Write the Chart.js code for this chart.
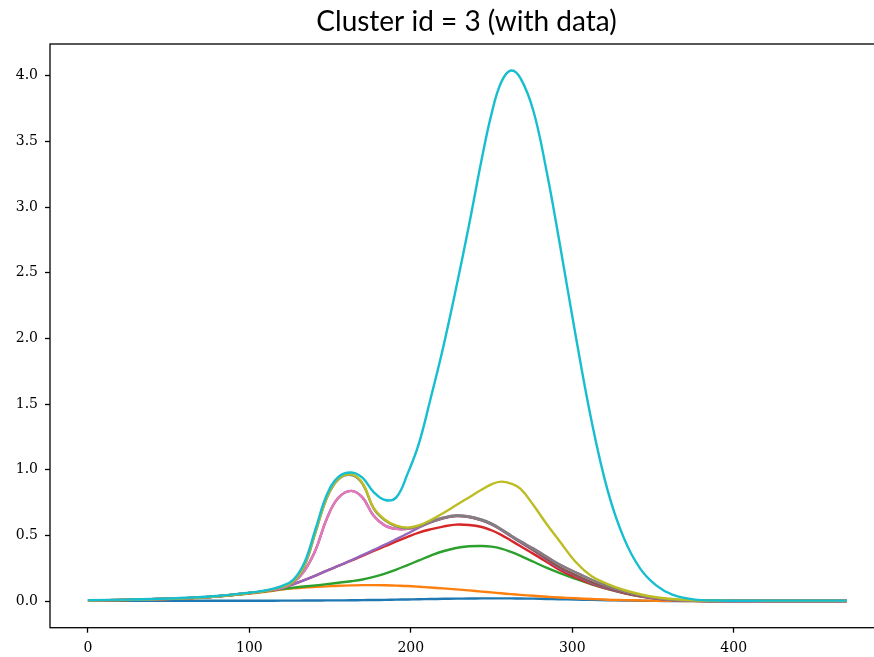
<!DOCTYPE html>
<html>
<head>
<meta charset="utf-8">
<script src="https://cdn.jsdelivr.net/npm/chart.js@4/dist/chart.umd.min.js"></script>
<style>
  html, body { margin: 0; padding: 0; background: #fff; overflow: hidden; }
  #wrap { width: 884px; height: 657px; }
</style>
</head>
<body>
<div id="wrap"><canvas id="c" width="884" height="657"></canvas></div>
<script>
// sample positions along the x axis
const xs = [0, 25, 50, 75, 100, 110, 120, 127, 134, 141, 148, 155, 163, 170, 177, 184, 191, 198, 205, 212,
            220, 228, 236, 244, 250, 256, 262, 268, 276, 284, 292, 302, 312, 322, 332, 342, 352, 362, 375, 390, 420, 470];

const xTicks = [0, 100, 200, 300, 400];
const yTicks = [0, 0.5, 1, 1.5, 2, 2.5, 3, 3.5, 4];

const s0 = [0.004, 0.003, 0.003, 0.003, 0.003, 0.003, 0.004, 0.004, 0.005, 0.005, 0.006, 0.006, 0.007, 0.008, 0.009, 0.010, 0.012, 0.013, 0.015, 0.016,
            0.018, 0.019, 0.020, 0.021, 0.021, 0.021, 0.021, 0.020, 0.019, 0.017, 0.015, 0.012, 0.010, 0.007, 0.005, 0.003, 0.002, 0.001, 0.001, 0.001, 0.001, 0.001];
const s1 = [0.005, 0.009, 0.016, 0.030, 0.058, 0.072, 0.088, 0.097, 0.104, 0.109, 0.113, 0.117, 0.120, 0.122, 0.122, 0.121, 0.118, 0.115, 0.110, 0.104,
            0.097, 0.090, 0.082, 0.073, 0.067, 0.060, 0.054, 0.048, 0.041, 0.034, 0.028, 0.022, 0.016, 0.011, 0.008, 0.005, 0.003, 0.002, 0.001, 0.001, 0.001, 0.001];
const s2 = [0.005, 0.010, 0.018, 0.032, 0.060, 0.075, 0.092, 0.102, 0.112, 0.120, 0.130, 0.140, 0.152, 0.165, 0.185, 0.210, 0.240, 0.275, 0.310, 0.345,
            0.380, 0.405, 0.418, 0.420, 0.415, 0.400, 0.375, 0.345, 0.300, 0.255, 0.215, 0.170, 0.128, 0.092, 0.062, 0.037, 0.019, 0.008, 0.002, 0.001, 0.001, 0.001];
const s3 = [0.006, 0.010, 0.018, 0.032, 0.062, 0.078, 0.100, 0.128, 0.160, 0.195, 0.232, 0.268, 0.308, 0.345, 0.382, 0.418, 0.455, 0.490, 0.522, 0.546,
            0.568, 0.583, 0.580, 0.565, 0.540, 0.505, 0.462, 0.418, 0.360, 0.300, 0.240, 0.180, 0.132, 0.093, 0.062, 0.037, 0.019, 0.008, 0.002, 0.001, 0.001, 0.001];
const s4 = [0.006, 0.010, 0.018, 0.032, 0.062, 0.078, 0.100, 0.128, 0.160, 0.195, 0.232, 0.268, 0.310, 0.350, 0.390, 0.430, 0.472, 0.515, 0.560, 0.598,
            0.630, 0.648, 0.641, 0.615, 0.584, 0.542, 0.494, 0.447, 0.385, 0.318, 0.255, 0.195, 0.140, 0.098, 0.065, 0.038, 0.020, 0.008, 0.003, 0.001, 0.001, 0.001];
const s5 = [0.006, 0.010, 0.018, 0.032, 0.062, 0.078, 0.100, 0.140, 0.230, 0.390, 0.630, 0.785, 0.840, 0.790, 0.650, 0.575, 0.550, 0.550, 0.568, 0.601,
            0.631, 0.648, 0.641, 0.616, 0.586, 0.544, 0.496, 0.450, 0.390, 0.325, 0.260, 0.200, 0.145, 0.102, 0.068, 0.040, 0.021, 0.009, 0.003, 0.001, 0.001, 0.001];
const s6 = [0.006, 0.010, 0.018, 0.032, 0.062, 0.078, 0.100, 0.140, 0.230, 0.390, 0.630, 0.785, 0.840, 0.790, 0.650, 0.575, 0.550, 0.550, 0.568, 0.605,
            0.635, 0.652, 0.645, 0.620, 0.590, 0.548, 0.500, 0.455, 0.400, 0.340, 0.280, 0.220, 0.163, 0.115, 0.077, 0.046, 0.025, 0.011, 0.004, 0.002, 0.001, 0.001];
const s7 = [0.006, 0.010, 0.018, 0.032, 0.062, 0.078, 0.108, 0.145, 0.265, 0.525, 0.785, 0.925, 0.960, 0.895, 0.705, 0.615, 0.570, 0.555, 0.570, 0.605,
            0.635, 0.652, 0.645, 0.620, 0.590, 0.548, 0.500, 0.455, 0.400, 0.340, 0.280, 0.220, 0.163, 0.115, 0.077, 0.046, 0.025, 0.011, 0.004, 0.002, 0.001, 0.001];
const s8 = [0.006, 0.010, 0.018, 0.032, 0.062, 0.078, 0.110, 0.148, 0.270, 0.530, 0.790, 0.930, 0.965, 0.900, 0.710, 0.620, 0.575, 0.560, 0.577, 0.615,
            0.670, 0.730, 0.790, 0.850, 0.890, 0.910, 0.895, 0.855, 0.730, 0.590, 0.460, 0.300, 0.190, 0.130, 0.085, 0.053, 0.030, 0.016, 0.006, 0.003, 0.002, 0.002];
const s9 = [0.008, 0.012, 0.020, 0.035, 0.065, 0.082, 0.115, 0.160, 0.290, 0.550, 0.810, 0.945, 0.980, 0.940, 0.830, 0.770, 0.790, 0.970, 1.200, 1.530,
            1.930, 2.380, 2.860, 3.370, 3.710, 3.950, 4.040, 3.980, 3.730, 3.280, 2.740, 2.030, 1.370, 0.840, 0.480, 0.250, 0.120, 0.050, 0.014, 0.005, 0.004, 0.004];

const series = [s0, s1, s2, s3, s4, s5, s6, s7, s8, s9];
const colors = ['#1f77b4', '#ff7f0e', '#2ca02c', '#d62728', '#9467bd',
                '#8c564b', '#e377c2', '#7f7f7f', '#bcbd22', '#17becf'];

// axes frame (all four spines) drawn over the lines
const frame = {
  id: 'frame',
  afterDatasetsDraw(chart) {
    const a = chart.chartArea, ctx = chart.ctx;
    ctx.save();
    ctx.strokeStyle = '#000';
    ctx.lineWidth = 1.3;
    ctx.strokeRect(a.left, a.top, a.right - a.left, a.bottom - a.top);
    ctx.restore();
  }
};

const tickFont = { family: '"DejaVu Serif", serif', size: 14 };

new Chart(document.getElementById('c'), {
  type: 'line',
  data: {
    datasets: series.map((s, i) => ({
      data: xs.map((x, k) => ({ x: x, y: s[k] })),
      borderColor: colors[i],
      backgroundColor: colors[i],
      borderWidth: 2.4,
      pointRadius: 0,
      fill: false,
      tension: 0.4,
      order: series.length - 1 - i,   // later series are painted on top
      borderCapStyle: 'butt'
    }))
  },
  options: {
    responsive: false,
    animation: false,
    devicePixelRatio: 1,
    layout: { padding: { left: 0, right: 1, top: 0, bottom: 0 } },
    plugins: {
      legend: { display: false },
      tooltip: { enabled: false },
      title: {
        display: true,
        text: 'Cluster id = 3 (with data)',
        fullSize: false,
        color: '#000',
        font: { family: 'Lato, "Open Sans", sans-serif', size: 28, weight: 'normal', lineHeight: 1.2 },
        padding: { top: 5, bottom: 5.4 }
      }
    },
    scales: {
      x: {
        type: 'linear',
        min: -23.5,
        max: 492.5,
        afterBuildTicks(scale) { scale.ticks = xTicks.map(v => ({ value: v })); },
        afterFit(scale) { scale.height = 29.3; },
        grid: { display: true, drawOnChartArea: false, drawTicks: true, tickLength: 5, tickWidth: 1.3, tickColor: '#000' },
        border: { display: false },
        ticks: { color: '#000', font: tickFont, padding: 7, maxRotation: 0, autoSkip: false,
                 callback: v => String(v) }
      },
      y: {
        type: 'linear',
        min: -0.202,
        max: 4.242,
        afterBuildTicks(scale) { scale.ticks = yTicks.map(v => ({ value: v })); },
        afterFit(scale) { scale.width = 50; },
        grid: { display: true, drawOnChartArea: false, drawTicks: true, tickLength: 5, tickWidth: 1.3, tickColor: '#000' },
        border: { display: false },
        ticks: { color: '#000', font: tickFont, padding: 7, autoSkip: false,
                 callback: v => Number(v).toFixed(1) }
      }
    }
  },
  plugins: [frame]
});
</script>
</body>
</html>
